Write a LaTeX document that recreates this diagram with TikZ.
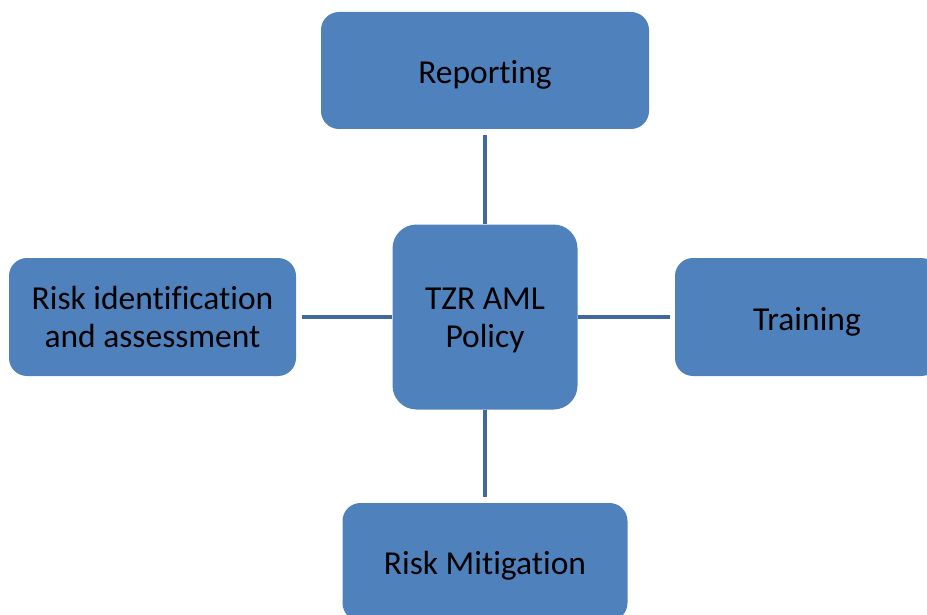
\documentclass[tikz,border=0pt]{standalone}
\usepackage{fontspec}
\setmainfont[Ligatures={NoCommon}]{Carlito}
\definecolor{boxblue}{HTML}{4F81BD}
\definecolor{linkblue}{HTML}{41699A}
\newcommand{\lowered}[2]{\raisebox{-#1}[\height][\depth]{#2}}
\begin{document}
\begin{tikzpicture}[x=1pt,y=-1pt,
  blk/.style={draw=none, fill=boxblue, rounded corners=18pt, inner sep=0pt, align=center,
    font=\fontsize{33.5}{38}\selectfont, text=black},
  link/.style={draw=linkblue, line width=4.5pt}]
\useasboundingbox (0,0) rectangle (927,615);
\clip (0,0) rectangle (927,615);
\node[blk, minimum width=328pt, minimum height=117pt] (rep) at (485,70.5) {\lowered{4pt}{Reporting}};
\node[blk, minimum width=185pt, minimum height=185pt, rounded corners=24pt] (ctr) at (485,317) {\lowered{4pt}{\begin{tabular}{@{}c@{}}TZR AML\\Policy\end{tabular}}};
\node[blk, minimum width=287pt, minimum height=118pt] (idn) at (152.5,317) {\lowered{4pt}{\begin{tabular}{@{}c@{}}Risk identification\\and assessment\end{tabular}}};
\node[blk, minimum width=264pt, minimum height=118pt] (trn) at (807,317) {\lowered{5pt}{Training}};
\node[blk, minimum width=285pt, minimum height=118pt] (mit) at (485,562) {\lowered{4pt}{Risk Mitigation}};
\draw[link, shorten <=6pt] (rep.south) -- (ctr.north);
\draw[link, shorten >=6pt] (ctr.south) -- (mit.north);
\draw[link, shorten <=6pt] (idn.east) -- (ctr.west);
\draw[link, shorten >=5pt] (ctr.east) -- (trn.west);
\end{tikzpicture}
\end{document}
